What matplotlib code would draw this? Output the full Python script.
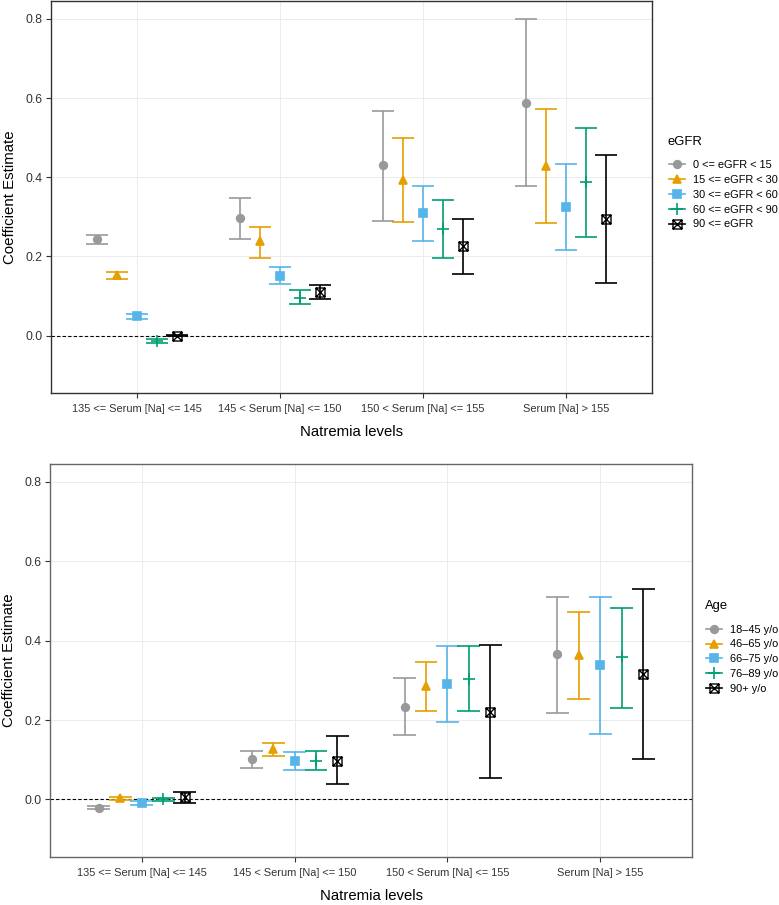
import numpy as np
import matplotlib
matplotlib.use('Agg')
import matplotlib.pyplot as plt
from matplotlib.path import Path
from matplotlib.lines import Line2D

plt.rcParams['font.family'] = ['Liberation Sans', 'DejaVu Sans']

categories = ['135 <= Serum [Na] <= 145', '145 < Serum [Na] <= 150',
              '150 < Serum [Na] <= 155', 'Serum [Na] > 155']

# eGFR panel: estimate, lower, upper per category
egfr_labels = ['0 <= eGFR < 15', '15 <= eGFR < 30', '30 <= eGFR < 60',
               '60 <= eGFR < 90', '90 <= eGFR']
egfr_est = [[0.243, 0.296, 0.430, 0.588],
            [0.154, 0.238, 0.394, 0.429],
            [0.049, 0.151, 0.309, 0.326],
            [-0.013, 0.095, 0.269, 0.387],
            [0.000, 0.110, 0.225, 0.295]]
egfr_lo = [[0.232, 0.243, 0.290, 0.379],
           [0.144, 0.197, 0.288, 0.284],
           [0.042, 0.131, 0.240, 0.217],
           [-0.018, 0.079, 0.196, 0.250],
           [-0.002, 0.093, 0.155, 0.133]]
egfr_hi = [[0.254, 0.348, 0.568, 0.799],
           [0.160, 0.275, 0.498, 0.571],
           [0.054, 0.173, 0.377, 0.433],
           [-0.008, 0.114, 0.343, 0.525],
           [0.002, 0.128, 0.295, 0.456]]

# Age panel
age_labels = ['18\u201345 y/o', '46\u201365 y/o', '66\u201375 y/o',
              '76\u201389 y/o', '90+ y/o']
age_est = [[-0.021, 0.101, 0.234, 0.367],
           [0.003, 0.128, 0.286, 0.364],
           [-0.008, 0.098, 0.291, 0.338],
           [0.000, 0.098, 0.304, 0.358],
           [0.005, 0.098, 0.220, 0.317]]
age_lo = [[-0.025, 0.079, 0.162, 0.219],
          [-0.001, 0.109, 0.222, 0.252],
          [-0.014, 0.075, 0.194, 0.165],
          [-0.004, 0.075, 0.222, 0.231],
          [-0.008, 0.038, 0.053, 0.103]]
age_hi = [[-0.017, 0.121, 0.306, 0.511],
          [0.005, 0.142, 0.346, 0.472],
          [-0.004, 0.119, 0.387, 0.511],
          [0.004, 0.123, 0.387, 0.483],
          [0.018, 0.159, 0.388, 0.531]]

colors = ['#999999', '#E69F00', '#56B4E9', '#009E73', '#000000']

# square with a cross inside (ggplot shape 7)
sq_x = Path([(-1, -1), (1, -1), (1, 1), (-1, 1), (-1, -1),
             (-1, -1), (1, 1), (-1, 1), (1, -1)],
            [Path.MOVETO, Path.LINETO, Path.LINETO, Path.LINETO, Path.CLOSEPOLY,
             Path.MOVETO, Path.LINETO, Path.MOVETO, Path.LINETO])
markers = ['o', '^', 's', '+', sq_x]
msizes = [5.5, 6, 5.5, 9, 6.5]
offsets = [-0.28, -0.14, 0.0, 0.14, 0.28]


def draw_panel(ax, est, lo, hi, labels, title, frame_col, leg_x, leg_title_y, leg_mid_y):
    x = np.arange(1, len(categories) + 1)
    for i in range(5):
        e = np.array(est[i])
        l = np.array(lo[i])
        h = np.array(hi[i])
        xi = x + offsets[i]
        ax.vlines(xi, l, h, color=colors[i], lw=1.2, zorder=3)
        ax.hlines(l, xi - 0.075, xi + 0.075, color=colors[i], lw=1.2, zorder=3)
        ax.hlines(h, xi - 0.075, xi + 0.075, color=colors[i], lw=1.2, zorder=3)
        if i == 4:
            ax.plot(xi, e, ls='none', marker=markers[i], ms=msizes[i],
                    mfc='none', mec=colors[i], mew=1.0, zorder=4)
        else:
            ax.plot(xi, e, ls='none', marker=markers[i], ms=msizes[i],
                    color=colors[i], mew=1.2, zorder=4)
    ax.axhline(0, color='black', ls=(0, (3, 2)), lw=0.8, zorder=2)
    ax.set_xlim(0.4, 4.6)
    ax.set_ylim(-0.145, 0.845)
    ax.set_xticks(x)
    ax.set_xticklabels(categories, fontsize=7.9, color='#333333')
    ax.set_yticks([0.0, 0.2, 0.4, 0.6, 0.8])
    ax.set_yticklabels(['0.0', '0.2', '0.4', '0.6', '0.8'], fontsize=8.8, color='#333333')
    ax.tick_params(axis='both', length=3.5, width=0.8, color='#333333')
    ax.tick_params(axis='y', pad=2.5)
    ax.tick_params(axis='x', pad=4.2)
    ax.grid(True, color='#EBEBEB', lw=0.7, zorder=0)
    ax.set_axisbelow(True)
    for s in ax.spines.values():
        s.set_color(frame_col)
        s.set_linewidth(1.0)
    ax.set_ylabel('Coefficient Estimate', fontsize=10.8, labelpad=6)
    ax.set_xlabel('Natremia levels', fontsize=10.7, labelpad=8)

    handles = []
    for i in range(5):
        if i == 4:
            h = Line2D([], [], color=colors[i], lw=1.2, marker=markers[i],
                       ms=msizes[i], mfc='none', mec=colors[i], mew=1.0)
        else:
            h = Line2D([], [], color=colors[i], lw=1.2, marker=markers[i],
                       ms=msizes[i], mew=1.2)
        handles.append(h)
    ax.legend(handles, labels, loc='center left',
              bbox_to_anchor=(leg_x / 779, 1 - leg_mid_y / 905),
              bbox_transform=fig.transFigure,
              frameon=False, fontsize=7.9,
              handlelength=1.46, handletextpad=0.7, labelspacing=0.44,
              borderpad=0, borderaxespad=0)
    fig.text((leg_x - 1) / 779, 1 - leg_title_y / 905, title, fontsize=9.4,
             ha='left', va='center')


fig = plt.figure(figsize=(7.79, 9.05), dpi=100)
ax1 = fig.add_axes([51 / 779, 1 - 393 / 905, 601 / 779, 392 / 905])
ax2 = fig.add_axes([50 / 779, 1 - 857 / 905, 642 / 779, 393 / 905])

draw_panel(ax1, egfr_est, egfr_lo, egfr_hi, egfr_labels, 'eGFR', '#333333',
           669, 141.7, 194.7)
draw_panel(ax2, age_est, age_lo, age_hi, age_labels, 'Age', '#666666',
           706, 605.7, 659.3)

fig.savefig('out.png', dpi=100)
